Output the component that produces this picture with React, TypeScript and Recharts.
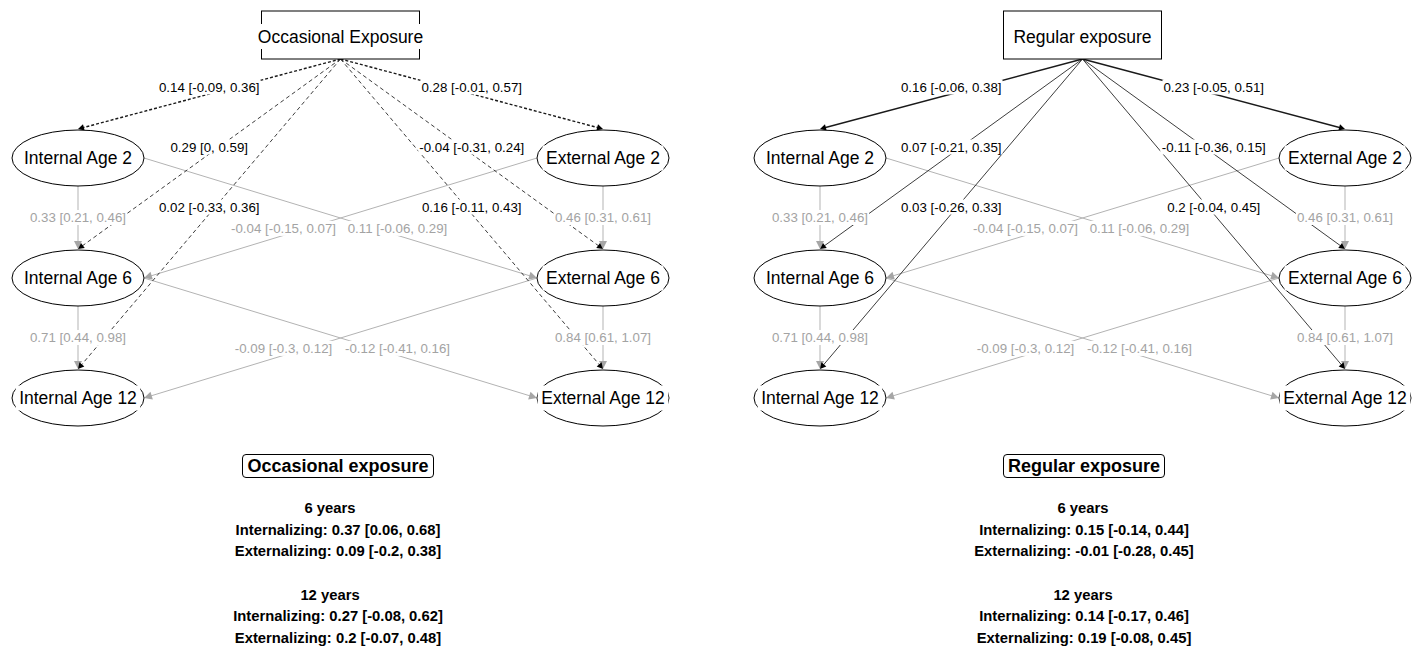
import React from "react";
import { ScatterChart, Scatter, XAxis, YAxis, ReferenceLine } from "recharts";

const FONT = "'Liberation Sans', Arial, sans-serif";

// outcome nodes, laid out on a 2-column grid (0 = internal, 1 = external)
const outcomeIds = ["int2", "ext2", "int6", "ext6", "int12", "ext12"];
const outcomeLabels = ["Internal Age 2", "External Age 2", "Internal Age 6", "External Age 6", "Internal Age 12", "External Age 12"];
const outcomeCols = [0, 1, 0, 1, 0, 1];
const outcomeRows = [1, 1, 2, 2, 3, 3];

// stability / cross-lagged paths, same in both models
const pathFrom = ["int2", "ext2", "int6", "ext6", "ext2", "int2", "ext6", "int6"];
const pathTo = ["int6", "ext6", "int12", "ext12", "int6", "ext6", "int12", "ext12"];
const pathEst = [0.33, 0.46, 0.71, 0.84, -0.04, 0.11, -0.09, -0.12];
const pathLo = [0.21, 0.31, 0.44, 0.61, -0.15, -0.06, -0.3, -0.41];
const pathHi = [0.46, 0.61, 0.98, 1.07, 0.07, 0.29, 0.12, 0.16];

// exposure -> outcome effects
const exposureTargets = ["int2", "ext2", "int6", "ext6", "int12", "ext12"];
const occEst = [0.14, 0.28, 0.29, -0.04, 0.02, 0.16];
const occLo = [-0.09, -0.01, 0, -0.31, -0.33, -0.11];
const occHi = [0.36, 0.57, 0.59, 0.24, 0.36, 0.43];
const regEst = [0.16, 0.23, 0.07, -0.11, 0.03, 0.2];
const regLo = [-0.06, -0.05, -0.21, -0.36, -0.26, -0.04];
const regHi = [0.38, 0.51, 0.35, 0.15, 0.33, 0.45];

// summary of total effects
const summaryAges = ["6 years", "12 years"];
const occTotalEst = [0.37, 0.09, 0.27, 0.2];
const occTotalLo = [0.06, -0.2, -0.08, -0.07];
const occTotalHi = [0.68, 0.38, 0.62, 0.48];
const regTotalEst = [0.15, -0.01, 0.14, 0.19];
const regTotalLo = [-0.14, -0.28, -0.17, -0.08];
const regTotalHi = [0.44, 0.45, 0.46, 0.45];

const RX = 66;
const RY = 28;
const BOX_W = 158;
const NODE_FS = 17.5;
const EDGE_FS = 13.3;

const ARIAL: Record<string, number> = {
  " ": 278, ".": 278, ",": 278, "[": 278, "]": 278, "-": 333,
  I: 278, n: 556, t: 278, e: 556, r: 333, a: 556, l: 222, A: 667, g: 556,
  E: 667, x: 500, p: 556, o: 556, s: 500, u: 556, O: 778, c: 500, i: 222, R: 722,
};
const textWidth = (s: string, fs: number) =>
  s.split("").reduce((acc, ch) => acc + (ARIAL[ch] ?? 556), 0) * fs / 1000;

const fmt = (e: number, lo: number, hi: number) => `${e} [${lo}, ${hi}]`;

type Node = { id: string; label: string; col: number; row: number; kind: string };
type Edge = { from: string; to: string; label: string; kind: string };

const buildNodes = (exposureLabel: string): Node[] => [
  { id: "exp", label: exposureLabel, col: 0.5, row: 0, kind: "exposure" },
  ...outcomeIds.map((id, i) => ({ id, label: outcomeLabels[i], col: outcomeCols[i], row: outcomeRows[i], kind: "outcome" })),
];

const buildEdges = (est: number[], lo: number[], hi: number[]): Edge[] => [
  ...pathFrom.map((f, i) => ({ from: f, to: pathTo[i], label: fmt(pathEst[i], pathLo[i], pathHi[i]), kind: "path" })),
  ...exposureTargets.map((t, i) => ({ from: "exp", to: t, label: fmt(est[i], lo[i], hi[i]), kind: "exposure" })),
];

const NodeShape = (props: any) => {
  const { cx, cy, payload } = props;
  if (cx == null || cy == null) return null;
  const isBox = payload.kind === "exposure";
  const ty = isBox ? cy - 1.5 : cy;
  const w = textWidth(payload.label, NODE_FS);
  return (
    <g>
      {isBox ? (
        <rect x={cx - BOX_W / 2} y={cy - 27} width={BOX_W} height={48} fill="#fff" stroke="#000" strokeWidth={1} />
      ) : (
        <ellipse cx={cx} cy={cy} rx={RX} ry={RY} fill="#fff" stroke="#000" strokeWidth={1} />
      )}
      <rect x={cx - w / 2 - 3} y={ty - 12.5} width={w + 6} height={25} fill="#fff" />
      <text x={cx} y={ty + 6.2} textAnchor="middle" fontSize={NODE_FS} fontFamily={FONT} fill="#000">
        {payload.label}
      </text>
    </g>
  );
};

const geometry = (x1: number, y1: number, x2: number, y2: number, edge: Edge, nodes: Node[]) => {
  const from = nodes.find((n) => n.id === edge.from)!;
  if (from.kind === "exposure") {
    return { sx: x1, sy: y1 + 21, ex: x2, ey: y2 - RY - 1, t: 0.5, dy: -7 };
  }
  if (Math.abs(x1 - x2) < 1) {
    return { sx: x1, sy: y1 + RY, ex: x2, ey: y2 - RY - 1, t: 0.5, dy: 0 };
  }
  const s = Math.sign(x2 - x1);
  return { sx: x1 + s * RX, sy: y1, ex: x2 - s * RX, ey: y2, t: 0.645, dy: -7 };
};

const EdgeLine = (props: any) => {
  const { x1, y1, x2, y2, edge, nodes, dashed } = props;
  if (x1 == null) return null;
  const { sx, sy, ex, ey } = geometry(x1, y1, x2, y2, edge, nodes);
  const isPath = edge.kind === "path";
  const toRow = nodes.find((n: Node) => n.id === edge.to).row;
  const len = Math.hypot(ex - sx, ey - sy);
  const ux = (ex - sx) / len;
  const uy = (ey - sy) / len;
  const L = isPath ? 8 : 6;
  const W = isPath ? 4 : 3.2;
  const bx = ex - ux * L;
  const by = ey - uy * L;
  const color = isPath ? "#b3b3b3" : "#1a1a1a";
  const width = isPath ? 1 : toRow === 1 ? 1.4 : 0.85;
  const dash = !isPath && dashed ? (toRow === 1 ? "3 2" : "4 3") : undefined;
  return (
    <g>
      <line x1={sx} y1={sy} x2={ex - ux * L * 0.8} y2={ey - uy * L * 0.8} stroke={color} strokeWidth={width} strokeDasharray={dash} />
      <polygon
        points={`${ex},${ey} ${bx - uy * W},${by + ux * W} ${bx + uy * W},${by - ux * W}`}
        fill={isPath ? "#a6a6a6" : "#000"}
      />
    </g>
  );
};

const EdgeLabel = (props: any) => {
  const { x1, y1, x2, y2, edge, nodes } = props;
  if (x1 == null) return null;
  const { sx, sy, ex, ey, t, dy } = geometry(x1, y1, x2, y2, edge, nodes);
  const lx = sx + (ex - sx) * t;
  const ly = sy + (ey - sy) * t + dy;
  const w = textWidth(edge.label, EDGE_FS);
  return (
    <g>
      <rect x={lx - w / 2 - 1} y={ly - 7.5} width={w + 2} height={15} fill="#fff" />
      <text
        x={lx}
        y={ly + 4.7}
        textAnchor="middle"
        fontSize={EDGE_FS}
        fontFamily={FONT}
        fill={edge.kind === "path" ? "#a3a3a3" : "#000"}
      >
        {edge.label}
      </text>
    </g>
  );
};

const Panel = ({ exposureLabel, est, lo, hi, dashed, width }: any) => {
  const nodes = buildNodes(exposureLabel);
  const edges = buildEdges(est, lo, hi);
  const pos = (id: string) => {
    const n = nodes.find((m) => m.id === id)!;
    return { x: n.col, y: n.row };
  };
  return (
    <ScatterChart width={width} height={650} margin={{ top: 38, right: width - 603, bottom: 252, left: 78 }}>
      <XAxis type="number" dataKey="col" domain={[0, 1]} hide />
      <YAxis type="number" dataKey="row" domain={[0, 3]} reversed hide />
      {edges.map((e, i) => (
        <ReferenceLine
          key={`l${i}`}
          segment={[pos(e.from), pos(e.to)]}
          ifOverflow="visible"
          shape={(p: any) => <EdgeLine {...p} edge={e} nodes={nodes} dashed={dashed} />}
        />
      ))}
      <Scatter data={nodes} shape={(p: any) => <NodeShape {...p} />} isAnimationActive={false} />
      {edges.map((e, i) => (
        <ReferenceLine
          key={`t${i}`}
          segment={[pos(e.from), pos(e.to)]}
          ifOverflow="visible"
          shape={(p: any) => <EdgeLabel {...p} edge={e} nodes={nodes} />}
        />
      ))}
    </ScatterChart>
  );
};

const Summary = ({ title, center, est, lo, hi, headingShift }: any) => {
  const kinds = ["Internalizing", "Externalizing"];
  const lineStyle = { height: 21.65, lineHeight: "21.65px", whiteSpace: "nowrap" as const };
  const rows: React.ReactNode[] = [];
  summaryAges.forEach((age, a) => {
    if (a > 0) rows.push(<div key={`b${a}`} style={lineStyle} />);
    rows.push(
      <div key={`h${a}`} style={{ ...lineStyle, position: "relative", left: headingShift }}>
        {age}
      </div>
    );
    kinds.forEach((k, j) => {
      const i = a * 2 + j;
      rows.push(
        <div key={`r${i}`} style={lineStyle}>
          {`${k}: ${fmt(est[i], lo[i], hi[i])}`}
        </div>
      );
    });
  });
  return (
    <div
      style={{
        position: "absolute",
        left: center - 200,
        width: 400,
        top: 454,
        textAlign: "center",
        fontFamily: FONT,
        fontWeight: "bold",
        color: "#000",
      }}
    >
      <div
        style={{
          display: "inline-block",
          border: "1px solid #000",
          borderRadius: 4,
          padding: "0 4px",
          fontSize: 18,
          lineHeight: "22px",
          height: 22,
        }}
      >
        {title}
      </div>
      <div style={{ marginTop: 20, fontSize: 14.8 }}>{rows}</div>
    </div>
  );
};

export default function App() {
  return (
    <div
      style={{
        position: "absolute",
        left: 0,
        top: 0,
        width: 1416,
        height: 650,
        background: "#fff",
        overflow: "hidden",
      }}
    >
      <div style={{ position: "absolute", left: 0, top: 0 }}>
        <Panel exposureLabel="Occasional Exposure" est={occEst} lo={occLo} hi={occHi} dashed width={742} />
      </div>
      <div style={{ position: "absolute", left: 742, top: 0 }}>
        <Panel exposureLabel="Regular exposure" est={regEst} lo={regLo} hi={regHi} dashed={false} width={674} />
      </div>
      <Summary title="Occasional exposure" center={338} est={occTotalEst} lo={occTotalLo} hi={occTotalHi} headingShift={-8} />
      <Summary title="Regular exposure" center={1084} est={regTotalEst} lo={regTotalLo} hi={regTotalHi} headingShift={-1} />
    </div>
  );
}
